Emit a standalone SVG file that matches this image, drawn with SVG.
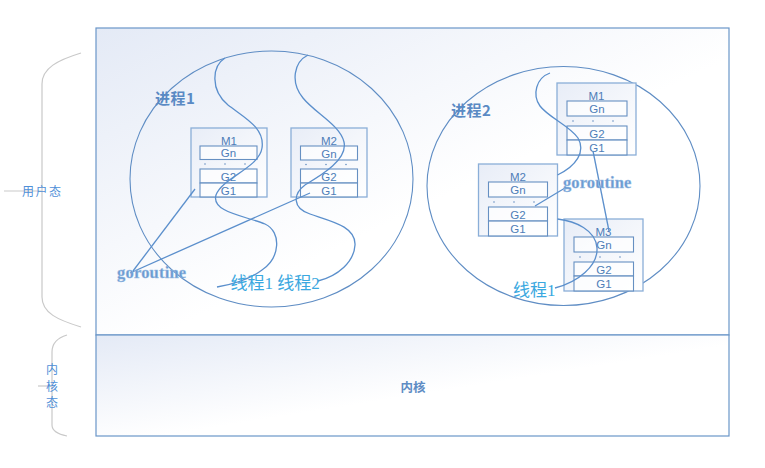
<svg xmlns="http://www.w3.org/2000/svg" width="765" height="468" viewBox="0 0 765 468">
<defs>
<linearGradient id="bg" x1="0" y1="0" x2="1" y2="1">
<stop offset="0" stop-color="#e4eaf6"/>
<stop offset="0.55" stop-color="#ffffff"/>
<stop offset="1" stop-color="#ffffff"/>
</linearGradient>
<linearGradient id="bx" x1="0" y1="0" x2="1" y2="1">
<stop offset="0" stop-color="#e8edf7"/>
<stop offset="1" stop-color="#ffffff"/>
</linearGradient>
<style>
.frame{fill:url(#bg);stroke:#6a96c8;stroke-width:1.2}
.proc{fill:none;stroke:#5f8dc4;stroke-width:1.1}
.mbox{fill:url(#bx);stroke:#8aaed8;stroke-width:1.3}
.g{fill:#ffffff;fill-opacity:0.7;stroke:#6690c2;stroke-width:1.1}
.dot{fill:#6690c2}
.mt{font-family:"Liberation Sans","Noto Sans",sans-serif;font-size:11.5px;fill:#4e7db8;text-anchor:middle}
.brace{fill:none;stroke:#c9c9c9;stroke-width:1.2}
.side{font-family:"Noto Sans CJK SC","Noto Sans",sans-serif;font-size:12px;fill:#4f8fd8}
.pname{font-family:"Noto Sans CJK SC",sans-serif;font-size:15px;font-weight:bold;fill:#5a8ac4}
.gor{font-family:"Liberation Serif",serif;font-size:16.5px;font-weight:bold;fill:#6b9ad0;stroke:#9fc0e6;stroke-width:0.4}
.thr{font-family:"Liberation Serif","Noto Sans CJK SC",serif;font-size:17px;fill:#3aa8e0}
.cv{fill:none;stroke:#5b8fcc;stroke-width:1.3}
</style>
</defs>

<g id="userspace">
<rect class="frame" x="96" y="28" width="633" height="307"/>
</g>
<g id="kernel">
<rect class="frame" x="96" y="335" width="633" height="101"/>
<text x="413" y="391.5" font-family="Noto Sans CJK SC,sans-serif" font-size="12.5" font-weight="bold" fill="#5e8cc4" text-anchor="middle">内核</text>
</g>

<g id="brace-user">
<path class="brace" d="M81,53 C58,60 42,68 42,84 L42,297 C42,313 58,320 81,327"/>
<path class="brace" d="M4,191 L42,191"/>
<text class="side" x="22" y="195.5" letter-spacing="1.5">用户态</text>
</g>
<g id="brace-kernel">
<path class="brace" d="M67,335 C57,338 52,343 52,352 L52,425 C52,431 57,434 67,436"/>
<path class="brace" d="M38,386 L52,386"/>
<text class="side" x="52" y="374" text-anchor="middle">内</text>
<text class="side" x="52" y="391" text-anchor="middle">核</text>
<text class="side" x="52" y="407" text-anchor="middle">态</text>
</g>

<g id="process1">
<ellipse class="proc" cx="271.5" cy="179" rx="141.5" ry="128"/>
<text class="pname" x="155" y="104" letter-spacing="0.5">进程1</text>
</g>
<g id="process2">
<ellipse class="proc" cx="563.5" cy="186" rx="136.5" ry="119.5"/>
<text class="pname" x="451" y="116" letter-spacing="0.5">进程2</text>
</g>

<g id="p1-m1">
<rect class="mbox" x="191" y="128" width="76" height="69"/>
<text class="mt" x="229" y="144.5">M1</text>
<rect class="g" x="200" y="146" width="57" height="13.5"/>
<text class="mt" x="228.5" y="157">Gn</text>
<circle class="dot" cx="205" cy="164" r="0.8"/><circle class="dot" cx="225" cy="164" r="0.8"/><circle class="dot" cx="245" cy="164" r="0.8"/>
<rect class="g" x="200" y="169" width="57" height="14"/>
<text class="mt" x="228.5" y="180.5">G2</text>
<rect class="g" x="200" y="183" width="57" height="14"/>
<text class="mt" x="228.5" y="194.5">G1</text>
</g>
<g id="p1-m2">
<rect class="mbox" x="291" y="128" width="76" height="69"/>
<text class="mt" x="329" y="144.5">M2</text>
<rect class="g" x="300.5" y="146" width="57" height="14"/>
<text class="mt" x="329" y="157.5">Gn</text>
<circle class="dot" cx="306" cy="164.5" r="0.8"/><circle class="dot" cx="326" cy="164.5" r="0.8"/><circle class="dot" cx="346" cy="164.5" r="0.8"/>
<rect class="g" x="300.5" y="169" width="57" height="14"/>
<text class="mt" x="329" y="180.5">G2</text>
<rect class="g" x="300.5" y="183" width="57" height="14"/>
<text class="mt" x="329" y="194.5">G1</text>
</g>

<g id="p2-m1">
<rect class="mbox" x="557" y="83" width="79" height="72"/>
<text class="mt" x="596.5" y="99.5">M1</text>
<rect class="g" x="567" y="101" width="60" height="15"/>
<text class="mt" x="597" y="113">Gn</text>
<circle class="dot" cx="573" cy="121" r="0.8"/><circle class="dot" cx="593" cy="121" r="0.8"/><circle class="dot" cx="613" cy="121" r="0.8"/>
<rect class="g" x="567" y="126" width="60" height="14"/>
<text class="mt" x="597" y="137.5">G2</text>
<rect class="g" x="567" y="140" width="60" height="15"/>
<text class="mt" x="597" y="152">G1</text>
</g>
<g id="p2-m2">
<rect class="mbox" x="478.5" y="164" width="79" height="72"/>
<text class="mt" x="518" y="180.5">M2</text>
<rect class="g" x="488.5" y="182" width="59" height="15"/>
<text class="mt" x="518" y="194">Gn</text>
<circle class="dot" cx="494" cy="202" r="0.8"/><circle class="dot" cx="514" cy="202" r="0.8"/><circle class="dot" cx="534" cy="202" r="0.8"/>
<rect class="g" x="488.5" y="207" width="59" height="14"/>
<text class="mt" x="518" y="218.5">G2</text>
<rect class="g" x="488.5" y="221" width="59" height="15"/>
<text class="mt" x="518" y="233">G1</text>
</g>
<g id="p2-m3">
<rect class="mbox" x="564" y="219" width="79" height="72"/>
<text class="mt" x="603.5" y="235.5">M3</text>
<rect class="g" x="574" y="237" width="59.5" height="15"/>
<text class="mt" x="604" y="249">Gn</text>
<circle class="dot" cx="580" cy="257" r="0.8"/><circle class="dot" cx="600" cy="257" r="0.8"/><circle class="dot" cx="620" cy="257" r="0.8"/>
<rect class="g" x="574" y="262" width="59.5" height="14"/>
<text class="mt" x="604" y="273.5">G2</text>
<rect class="g" x="574" y="276" width="59.5" height="15"/>
<text class="mt" x="604" y="288">G1</text>
</g>

<g id="connectors">
<path class="cv" d="M225,58 C212,66 210,90 228,105 C245,118 265,128 262,148 C259,168 222,178 216,195 C211,212 245,216 265,224 C282,232 280,258 262,270 C250,279 235,284 217,287"/>
<path class="cv" d="M308,55 C294,62 290,82 303,98 C315,113 340,125 344,142 C348,160 320,176 305,185 C293,194 292,208 310,214 C330,221 356,226 355,245 C354,262 338,276 318,281"/>
<path class="cv" d="M195,189 L133,271"/>
<path class="cv" d="M310,193 L130,273"/>
<path class="cv" d="M550,73 C536,78 532,95 540,106 C548,117 570,126 578,138 C586,152 576,166 557.5,175"/>
<path class="cv" d="M557.5,219 C575,221 596,230 597,248 C598,266 578,282 555,288"/>
<path class="cv" d="M535,206 L565,188"/>
<path class="cv" d="M593,151 L609,231"/>
</g>

<g id="labels">
<text class="gor" x="117" y="278" letter-spacing="0.2">goroutine</text>
<text class="gor" x="563" y="188" letter-spacing="0.1">goroutine</text>
<text class="thr" x="230.5" y="289">线程1 线程2</text>
<text class="thr" x="513" y="296">线程1</text>
</g>
</svg>
